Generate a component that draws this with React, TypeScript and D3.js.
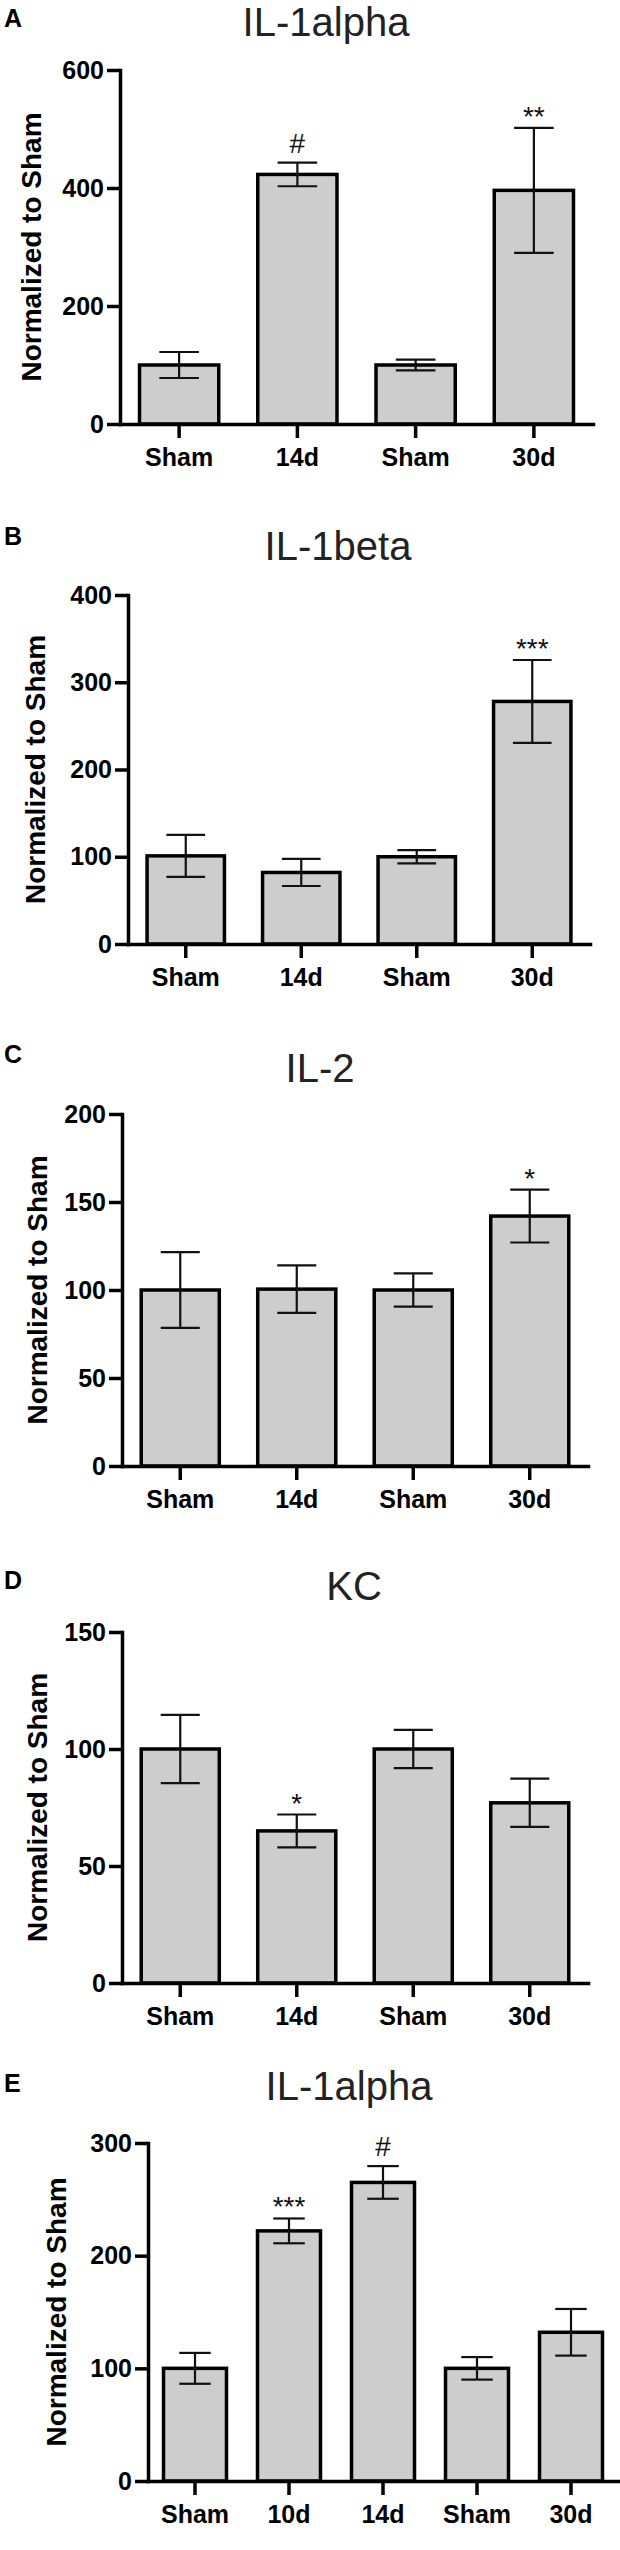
import * as d3 from "d3";
import { useEffect, useRef } from "react";

// panel labels / titles
const panelLetters = ["A", "B", "C", "D", "E"];
const panelTitles = ["IL-1alpha", "IL-1beta", "IL-2", "KC", "IL-1alpha"];

// x categories
const groups4 = ["Sham", "14d", "Sham", "30d"];
const groups5 = ["Sham", "10d", "14d", "Sham", "30d"];

// y axis maxima and tick steps
const yMaxes = [600, 400, 200, 150, 300];
const yTickSteps = [200, 100, 50, 50, 100];

// A: IL-1alpha
const il1aMean = [100, 423, 100, 396];
const il1aSem = [22, 20, 9, 106];
const il1aSig = ["", "#", "", "**"];

// B: IL-1beta
const il1bMean = [101, 82, 100, 278];
const il1bSem = [24, 15.5, 7.5, 47.5];
const il1bSig = ["", "", "", "***"];

// C: IL-2
const il2Mean = [100, 100.5, 100, 142];
const il2Sem = [21.5, 13.5, 9.5, 15];
const il2Sig = ["", "", "", "*"];

// D: KC
const kcMean = [100, 65, 100, 77];
const kcSem = [14.6, 7, 8.2, 10.3];
const kcSig = ["", "*", "", ""];

// E: IL-1alpha, second time course
const il1a2Mean = [100, 222, 265, 100, 132];
const il1a2Sem = [13.7, 11, 14.5, 10, 20.7];
const il1a2Sig = ["", "***", "#", "", ""];

const panels = [
  { groups: groups4, mean: il1aMean, sem: il1aSem, sig: il1aSig },
  { groups: groups4, mean: il1bMean, sem: il1bSem, sig: il1bSig },
  { groups: groups4, mean: il2Mean, sem: il2Sem, sig: il2Sig },
  { groups: groups4, mean: kcMean, sem: kcSem, sig: kcSig },
  { groups: groups5, mean: il1a2Mean, sem: il1a2Sem, sig: il1a2Sig },
];

// page layout of each panel (pixels)
const layout = [
  { left: 120, right: 593, top: 70, bottom: 424, titleX: 326, titleY: 36, letterY: 27, labelX: 31 },
  { left: 128, right: 590, top: 595, bottom: 944, titleX: 338, titleY: 560, letterY: 545, labelX: 35 },
  { left: 122, right: 588, top: 1114, bottom: 1466, titleX: 320, titleY: 1082, letterY: 1063, labelX: 37 },
  { left: 122, right: 588, top: 1632, bottom: 1983, titleX: 354, titleY: 1600, letterY: 1589, labelX: 37 },
  { left: 148, right: 618, top: 2143, bottom: 2481, titleX: 349, titleY: 2100, letterY: 2092, labelX: 56 },
];

const FONT = "'Liberation Sans', Arial, Helvetica, sans-serif";

export default function App() {
  const ref = useRef<SVGSVGElement>(null);

  useEffect(() => {
    if (!ref.current) return;
    const svg = d3.select(ref.current);
    svg.selectAll("*").remove();

    panels.forEach((p, k) => {
      const L = layout[k];
      const g = svg.append("g");

      const x = d3
        .scaleBand<number>()
        .domain(d3.range(p.groups.length))
        .range([L.left, L.right])
        .paddingInner(0.33)
        .paddingOuter(0.165);
      const y = d3.scaleLinear().domain([0, yMaxes[k]]).range([L.bottom, L.top]);
      const bw = x.bandwidth();

      // bars
      g.selectAll("rect.bar")
        .data(p.mean)
        .join("rect")
        .attr("class", "bar")
        .attr("x", (_, i) => x(i)!)
        .attr("y", (d) => y(d))
        .attr("width", bw)
        .attr("height", (d) => L.bottom - y(d))
        .attr("fill", "#cdcdcd")
        .attr("stroke", "#000")
        .attr("stroke-width", 3.5);

      // error bars
      const err = g
        .selectAll("g.err")
        .data(p.mean)
        .join("g")
        .attr("class", "err")
        .attr("stroke", "#111")
        .attr("stroke-width", 2.2);
      err
        .append("line")
        .attr("x1", (_, i) => x(i)! + bw / 2)
        .attr("x2", (_, i) => x(i)! + bw / 2)
        .attr("y1", (d, i) => y(d - p.sem[i]))
        .attr("y2", (d, i) => y(d + p.sem[i]));
      [1, -1].forEach((s) => {
        err
          .append("line")
          .attr("x1", (_, i) => x(i)! + bw / 4)
          .attr("x2", (_, i) => x(i)! + (3 * bw) / 4)
          .attr("y1", (d, i) => y(d + s * p.sem[i]))
          .attr("y2", (d, i) => y(d + s * p.sem[i]));
      });

      // significance marks
      g.selectAll("text.sig")
        .data(p.sig)
        .join("text")
        .attr("class", "sig")
        .attr("x", (_, i) => x(i)! + bw / 2)
        .attr("y", (d, i) => y(p.mean[i] + p.sem[i]) - (d === "#" ? 10 : 2))
        .attr("text-anchor", "middle")
        .attr("font-family", FONT)
        .attr("font-size", 28)
        .attr("fill", "#111")
        .text((d) => d);

      // y axis
      const yAxis = g
        .append("g")
        .attr("transform", `translate(${L.left},0)`)
        .call(
          d3
            .axisLeft(y)
            .tickValues(d3.range(0, yMaxes[k] + 1, yTickSteps[k]))
            .tickSize(13)
            .tickPadding(3)
            .tickSizeOuter(0)
        );

      // x axis
      const xAxis = g
        .append("g")
        .attr("transform", `translate(0,${L.bottom})`)
        .call(
          d3
            .axisBottom(x)
            .tickSize(14)
            .tickPadding(10)
            .tickSizeOuter(0)
            .tickFormat((i) => p.groups[i as number])
        );

      [yAxis, xAxis].forEach((a) => {
        a.select(".domain").attr("stroke-width", 3.5).attr("stroke-linecap", "square");
        a.selectAll(".tick line").attr("stroke-width", 3.5);
        a.selectAll(".tick text")
          .attr("font-family", FONT)
          .attr("font-weight", "bold")
          .attr("font-size", 25)
          .attr("fill", "#000");
      });

      // y axis label
      g.append("text")
        .attr("transform", `translate(${L.labelX},${(L.top + L.bottom) / 2}) rotate(-90)`)
        .attr("text-anchor", "middle")
        .attr("dominant-baseline", "central")
        .attr("font-family", FONT)
        .attr("font-weight", "bold")
        .attr("font-size", 28)
        .text("Normalized to Sham");

      // title
      g.append("text")
        .attr("x", L.titleX)
        .attr("y", L.titleY)
        .attr("text-anchor", "middle")
        .attr("font-family", FONT)
        .attr("font-size", 40)
        .attr("fill", "#222")
        .text(panelTitles[k]);

      // panel letter
      g.append("text")
        .attr("x", 4)
        .attr("y", L.letterY)
        .attr("font-family", FONT)
        .attr("font-weight", "bold")
        .attr("font-size", 25)
        .text(panelLetters[k]);
    });
  }, []);

  return (
    <svg
      ref={ref}
      width={620}
      height={2550}
      style={{ position: "absolute", left: 0, top: 0, background: "#fff" }}
    />
  );
}
